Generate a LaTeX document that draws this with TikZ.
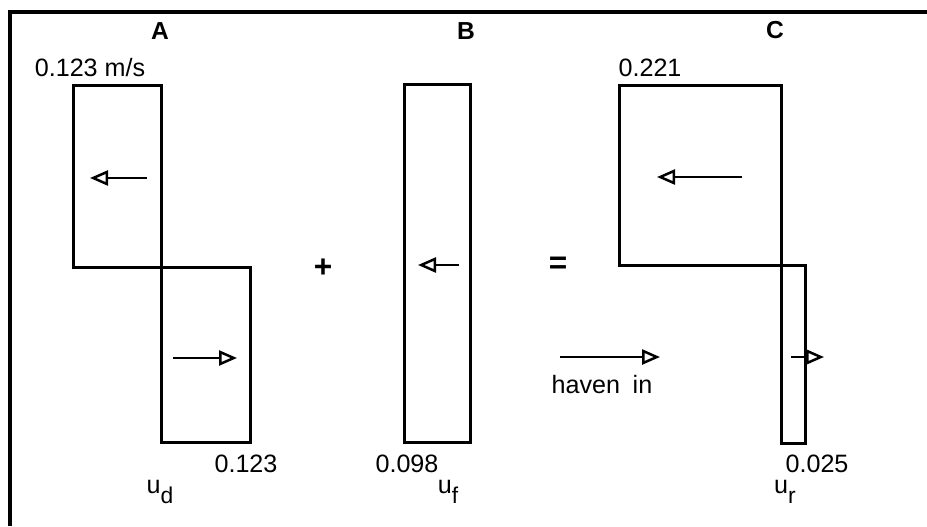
\documentclass[tikz,border=0pt]{standalone}
\usepackage{fontspec}
\setmainfont{Liberation Sans}
\usetikzlibrary{arrows.meta}
\tikzset{
  bar/.style={line width=0.6mm, line join=miter},
  frame/.style={line width=0.8mm},
  vel/.style={-{Triangle[open,length=3.6mm,width=3mm]}, line width=0.5mm},
  val/.style={font=\fontsize{14.3}{16}\selectfont, inner sep=0pt},
  panel/.style={font=\bfseries\fontsize{14}{16}\selectfont, inner sep=0pt},
  op/.style={font=\bfseries\fontsize{18}{20}\selectfont, inner sep=0pt},
}
\newcommand{\usub}[1]{u\raisebox{-0.8ex}{\fontsize{13}{15}\selectfont #1}}

\begin{document}
\begin{tikzpicture}[x=0.2mm, y=-0.2mm]
  \useasboundingbox (0,0) rectangle (927,526);
  % frame (top and left only)
  \draw[frame] (927,12) -- (10,12) -- (10,526);

  % A: density driven exchange
  \node[panel] (labA) at (160,31) {A};
  \draw[bar] (73,85) rectangle (161,267);
  \draw[bar] (161,267) rectangle (250,442);
  \coordinate (aOutS) at (147,178); \coordinate (aOutE) at (90,178);
  \coordinate (aInS) at (173,358);  \coordinate (aInE) at (237,358);
  \draw[vel] (aOutS) -- (aOutE);
  \draw[vel] (aInS) -- (aInE);
  \node[val] (vAtop) at (90,68) {0.123 m/s};
  \node[val] (vAbot) at (246,464) {0.123};
  \node[val] (uD) at (160,492) {\usub{d}};

  \node[op] (plus) at (323,268) {+};

  % B: river discharge
  \node[panel] (labB) at (466,31) {B};
  \draw[bar] (404,84) rectangle (470,442);
  \coordinate (bS) at (459,265); \coordinate (bE) at (418,265);
  \draw[vel] (bS) -- (bE);
  \node[val] (vB) at (407,464) {0.098};
  \node[val] (uF) at (448,492) {\usub{f}};

  \node[op] (equal) at (558,265) {=};

  % C: resulting flow
  \node[panel] (labC) at (775,30) {C};
  \draw[bar] (619,85) rectangle (781,265);
  \draw[bar] (781,265) rectangle (805,443);
  \coordinate (cOutS) at (742,177); \coordinate (cOutE) at (657,177);
  \coordinate (cInS) at (791,357);  \coordinate (cInE) at (824,357);
  \draw[vel] (cOutS) -- (cOutE);
  \draw[vel] (cInS) -- (cInE);
  \node[val] (vCtop) at (650,68) {0.221};
  \node[val] (vCbot) at (817,464) {0.025};
  \node[val] (uR) at (785,492) {\usub{r}};

  % direction into the harbour
  \coordinate (hS) at (560,357); \coordinate (hE) at (660,357);
  \draw[vel] (hS) -- (hE);
  \node[val] (haven) at (602,385) {haven\enspace in};
\end{tikzpicture}
\end{document}
